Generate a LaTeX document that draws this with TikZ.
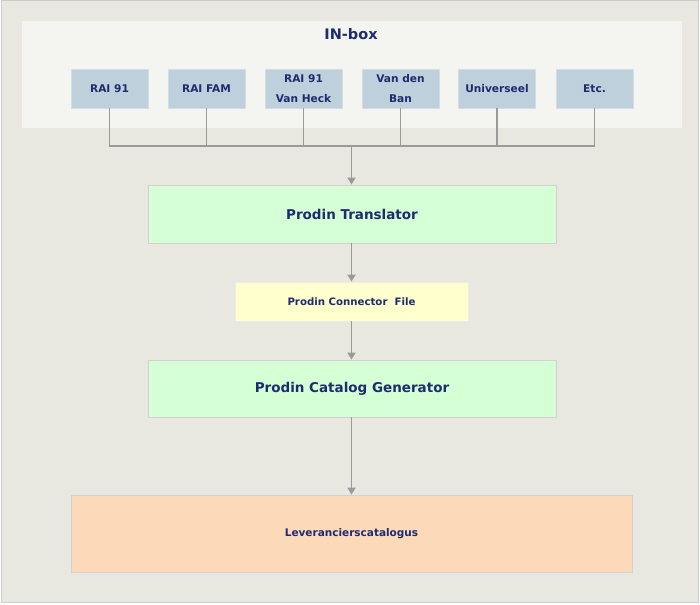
\documentclass[tikz,border=0pt]{standalone}
\usepackage{fontspec}
\setmainfont{DejaVu Sans}
\usetikzlibrary{arrows.meta}
\definecolor{navy}{HTML}{1E2B6E}
\definecolor{backgr}{HTML}{E8E7E0}
\definecolor{panel}{HTML}{F4F4F0}
\definecolor{srcblue}{HTML}{BDD0DB}
\definecolor{procgreen}{HTML}{D5FFD5}
\definecolor{fileyellow}{HTML}{FFFFCE}
\definecolor{outorange}{HTML}{FCDAB9}
\definecolor{wiregray}{HTML}{9A9A9A}
\tikzset{
  box/.style={draw=black!18, line width=0.8pt, inner sep=0pt, text=navy, align=center},
  src/.style={box, draw=srcblue!70!white, fill=srcblue, minimum width=77pt, minimum height=39pt,
    font=\bfseries\fontsize{10.6}{19.5}\selectfont},
  proc/.style={box, fill=procgreen, minimum width=408pt, minimum height=58pt,
    font=\bfseries\fontsize{13.5}{16}\selectfont},
  wire/.style={draw=wiregray, line width=1.8pt},
  arr/.style={wire, -{Triangle[width=8pt,length=7pt]}}
}
\begin{document}
\begin{tikzpicture}[x=1pt,y=-1pt]
\useasboundingbox (0,0) rectangle (700,604);
\draw[draw=black!20, fill=backgr, line width=1pt] (1,1) rectangle (698,602);
\fill[panel] (22,21) rectangle (682,128);
\node[text=navy, font=\bfseries\fontsize{14.5}{16}\selectfont] (inbox) at (351,34) {IN-box};
% bronnen
\node[src] (s1) at (109.5,88.5) {RAI 91};
\node[src] (s2) at (206.5,88.5) {RAI FAM};
\node[src] (s3) at (303.5,88.5) {RAI 91\\Van Heck};
\node[src] (s4) at (400.5,88.5) {Van den\\Ban};
\node[src] (s5) at (497,88.5) {Universeel};
\node[src] (s6) at (594.5,88.5) {Etc.};
\coordinate (bus) at (351.5,146);
\foreach \n in {s1,s2,s3,s4,s5,s6}
  \draw[wire] (\n.south) -- (\n.south |- bus);
\draw[wire, line cap=rect] (s1.south |- bus) -- (s6.south |- bus);
% keten
\node[proc] (trans) at (352,214) {Prodin Translator};
\node[box, draw=black!8, fill=fileyellow, minimum width=233pt, minimum height=39pt,
  font=\bfseries\fontsize{10.2}{12}\selectfont] (file) at (351.5,301.5) {Prodin Connector~ File};
\node[proc, minimum height=57pt] (gen) at (352,388.5) {Prodin Catalog Generator};
\node[box, fill=outorange, minimum width=561pt, minimum height=77pt,
  font=\bfseries\fontsize{10.5}{12}\selectfont] (cat) at (351.5,533.5) {Leverancierscatalogus};
\draw[arr] (bus) -- (bus |- trans.north);
\draw[arr] (trans.south -| bus) -- (file.north -| bus);
\draw[arr] (file.south -| bus) -- (gen.north -| bus);
\draw[arr] (gen.south -| bus) -- (cat.north -| bus);
\end{tikzpicture}
\end{document}
